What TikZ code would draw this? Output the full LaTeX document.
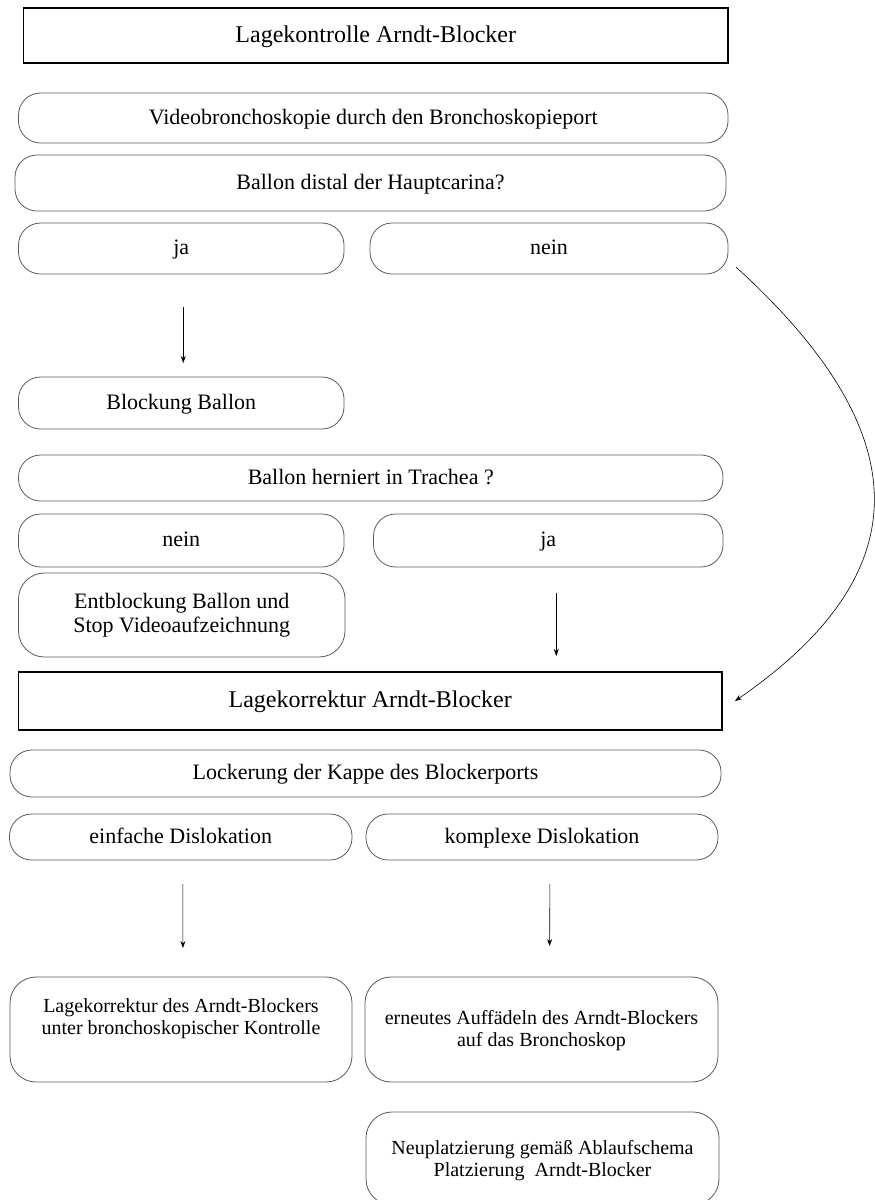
\documentclass[tikz,border=0pt]{standalone}
\usepackage{fontspec}
\setmainfont{Liberation Serif}
\usetikzlibrary{arrows.meta}
\definecolor{edgegrey}{RGB}{90,90,90}
\begin{document}
\begin{tikzpicture}[x=1pt,y=-1pt,
  base/.style={inner sep=0pt, outer sep=0pt, align=center, font=\fontsize{22}{24}\selectfont},
  oneline/.style={text height=16pt, text depth=4pt},
  headbox/.style={base, draw=black, line width=1.6pt, font=\fontsize{24}{26}\selectfont, text height=17pt, text depth=4pt},
  pill/.style={base, oneline, draw=edgegrey, line width=0.8pt, rounded corners=22pt},
  tallbox/.style={base, draw=edgegrey, line width=0.8pt, rounded corners=26pt},
  smalltxt/.style={font=\fontsize{20}{22}\selectfont},
  arr/.style={draw=black, line width=0.6pt, -{Stealth[length=7pt,width=5pt]}},
  sz/.style 2 args={minimum width=#1pt, minimum height=#2pt}]
\useasboundingbox (0,0) rectangle (875,1200);
\clip (0,0) rectangle (875,1200);

% position check
\node[headbox, sz={704.5}{55}] (b1) at (375.75,35.5) {Lagekontrolle Arndt-Blocker};
\node[pill, sz={709.5}{50}] (b2) at (373.25,118) {Videobronchoskopie durch den Bronchoskopieport};
\node[pill, sz={711}{56}] (b3) at (370.5,183) {Ballon distal der Hauptcarina?};
\node[pill, sz={325.5}{51}] (b4) at (181.25,248.5) {ja};
\node[pill, sz={358}{51}] (b5) at (549,248.5) {nein};
\node[pill, sz={325.5}{52}] (b6) at (181.25,403) {Blockung Ballon};
\node[pill, sz={704.5}{46}] (b7) at (370.75,478) {Ballon herniert in Trachea ?};
\node[pill, sz={325.5}{53}] (b8) at (181.25,540.5) {nein};
\node[pill, sz={349.5}{53}] (b9) at (548.25,540.5) {ja};
\node[tallbox, sz={326.5}{84}] (b10) at (181.75,615) {Entblockung Ballon und\\Stop Videoaufzeichnung};

% position correction
\node[headbox, sz={703.5}{58}] (b11) at (370.25,701) {Lagekorrektur Arndt-Blocker};
\node[pill, sz={711}{47}] (b12) at (365.5,773.5) {Lockerung der Kappe des Blockerports};
\node[pill, sz={342.5}{46}] (b13) at (180.75,837) {einfache Dislokation};
\node[pill, sz={352}{46}] (b14) at (542,837) {komplexe Dislokation};
\node[tallbox, sz={342}{105}] (b15) at (181,1029.5) {};
\node[base, smalltxt] (t15) at (181,1019) {Lagekorrektur des Arndt-Blockers\\unter bronchoskopischer Kontrolle};
\node[tallbox, sz={353}{105}] (b16) at (541.5,1029.5) {};
\node[base, smalltxt] (t16) at (541.5,1031) {erneutes Auffädeln des Arndt-Blockers\\auf das Bronchoskop};
\node[tallbox, sz={353}{93}] (b17) at (542.5,1158.5) {};
\node[base, smalltxt] (t17) at (542.5,1161) {Neuplatzierung gemäß Ablaufschema\\Platzierung\ \ Arndt-Blocker};

% connectors
\draw[arr, shorten <=33pt, shorten >=14pt] ([xshift=2pt]b4.south) -- ([xshift=2pt]b6.north);
\draw[arr] ([xshift=8pt,yshift=-26pt]b9.south) -- ([xshift=8pt,yshift=16pt]b9.south |- b11.north);
\draw[arr, shorten <=24pt, shorten >=29pt] ([xshift=2pt]b13.south) -- ([xshift=2pt]b15.north);
\draw[arr, shorten <=24pt, shorten >=31pt] ([xshift=8pt]b14.south) -- ([xshift=8pt]b16.north);
\draw[arr] ([xshift=8pt,yshift=7pt]b5.south east) .. controls (915,430) and (925,570) .. ([xshift=13pt]b11.east);
\end{tikzpicture}
\end{document}
